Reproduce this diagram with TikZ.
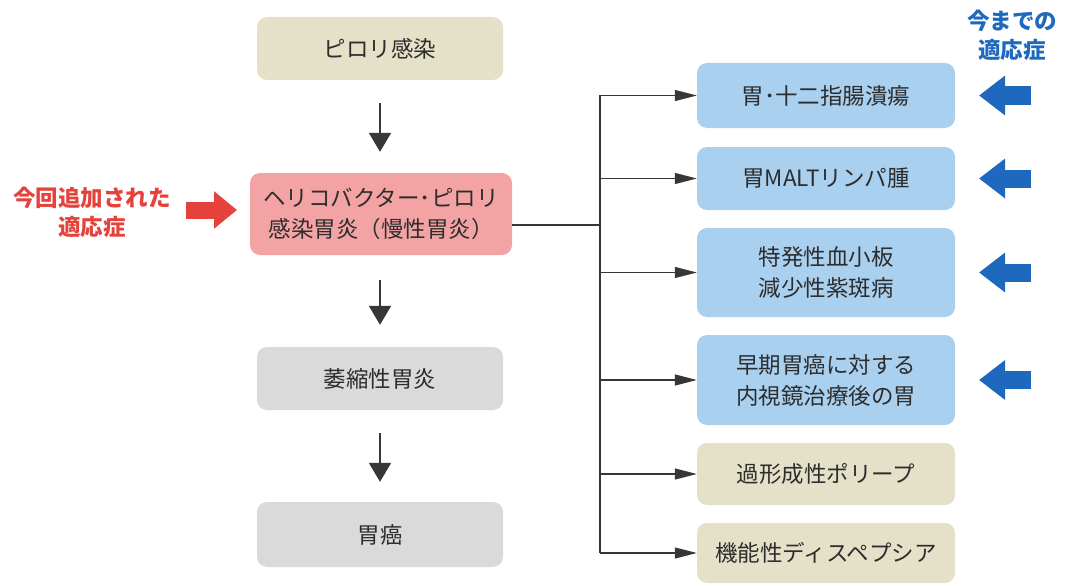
\documentclass[tikz,border=0pt]{standalone}
\usepackage{fontspec}
\setmainfont{Noto Sans CJK JP}
\usetikzlibrary{arrows.meta}
\definecolor{beige}{RGB}{228,225,200}
\definecolor{pinkbox}{RGB}{243,163,163}
\definecolor{bluebox}{RGB}{170,208,240}
\definecolor{graybox}{RGB}{218,218,218}
\definecolor{txt}{RGB}{45,45,45}
\definecolor{lnc}{RGB}{55,55,55}
\definecolor{redlab}{RGB}{228,66,58}
\definecolor{bluelab}{RGB}{30,105,190}
\tikzset{
  box/.style={rounded corners=10pt, inner sep=0pt, align=center, text=txt,
    font=\fontsize{22.5}{31}\selectfont},
  vflow/.style={draw=lnc, line width=2pt, -{Triangle[length=19pt,width=22pt]}},
  branch/.style={draw=lnc, line width=1.3pt, -{Triangle[length=22pt,width=11pt]}},
  trunk/.style={draw=lnc, line width=1.3pt},
  redblock/.style={draw=redlab, line width=17pt, -{Triangle[length=23pt,width=36pt]}},
  blueblock/.style={draw=bluelab, line width=18pt, -{Triangle[length=26pt,width=38pt]}},
  lab/.style={align=center, font=\fontsize{22.5}{29}\selectfont\bfseries}
}
\begin{document}
\begin{tikzpicture}[x=1pt,y=-1pt]
\useasboundingbox (0,0) rectangle (1066,586);
% left column
\node[box, fill=beige, minimum width=246pt, minimum height=63pt] (a) at (380,48.5) {ピロリ感染};
\node[box, fill=pinkbox, minimum width=262pt, minimum height=82pt] (r) at (381,214) {ヘリコバクター･ピロリ\\感染胃炎（慢性胃炎）};
\node[box, fill=graybox, minimum width=246pt, minimum height=63pt] (c) at (380,378.5) {萎縮性胃炎};
\node[box, fill=graybox, minimum width=246pt, minimum height=65pt] (d) at (380,534.5) {胃癌};
\draw[vflow, shorten <=23pt, shorten >=21pt] (a) -- (a |- r.north);
\draw[vflow, shorten <=25pt, shorten >=22pt] (r.south -| a) -- (c);
\draw[vflow, shorten <=23pt, shorten >=20pt] (c) -- (d);
% red label and arrow
\node[lab, text=redlab] (rl) at (92,212) {今回追加された\\適応症};
\coordinate (rs) at (186,210);
\coordinate (rt) at (237,210);
\draw[redblock] (rs) -- (rt);
% right column
\node[box, fill=bluebox, minimum width=258pt, minimum height=65pt] (b1) at (826,95.5) {胃･十二指腸潰瘍};
\node[box, fill=bluebox, minimum width=258pt, minimum height=63pt] (b2) at (826,178.5) {胃MALTリンパ腫};
\node[box, fill=bluebox, minimum width=258pt, minimum height=89pt] (b3) at (826,272.5) {特発性血小板\\減少性紫斑病};
\node[box, fill=bluebox, minimum width=258pt, minimum height=90pt] (b4) at (826,380) {早期胃癌に対する\\内視鏡治療後の胃};
\node[box, fill=beige, minimum width=258pt, minimum height=62pt] (b5) at (826,474) {過形成性ポリープ};
\node[box, fill=beige, minimum width=258pt, minimum height=60pt] (b6) at (826,553) {機能性ディスペプシア};
% tree
\coordinate (j) at (600,225);
\draw[trunk] (r.east |- j) -- (j);
\draw[trunk] (b1.west -| j) -- (b6.west -| j);
\foreach \b in {b1,b2,b3,b4,b5,b6}{
  \draw[branch] (\b.west -| j) -- (\b.west);
}
% blue label and arrows
\node[lab, text=bluelab] (bl) at (1012,35) {今までの\\適応症};
\foreach \b in {b1,b2,b3,b4}{
  \draw[blueblock] (\b.center -| 1031,0) -- (\b.center -| 979,0);
}
\end{tikzpicture}
\end{document}
